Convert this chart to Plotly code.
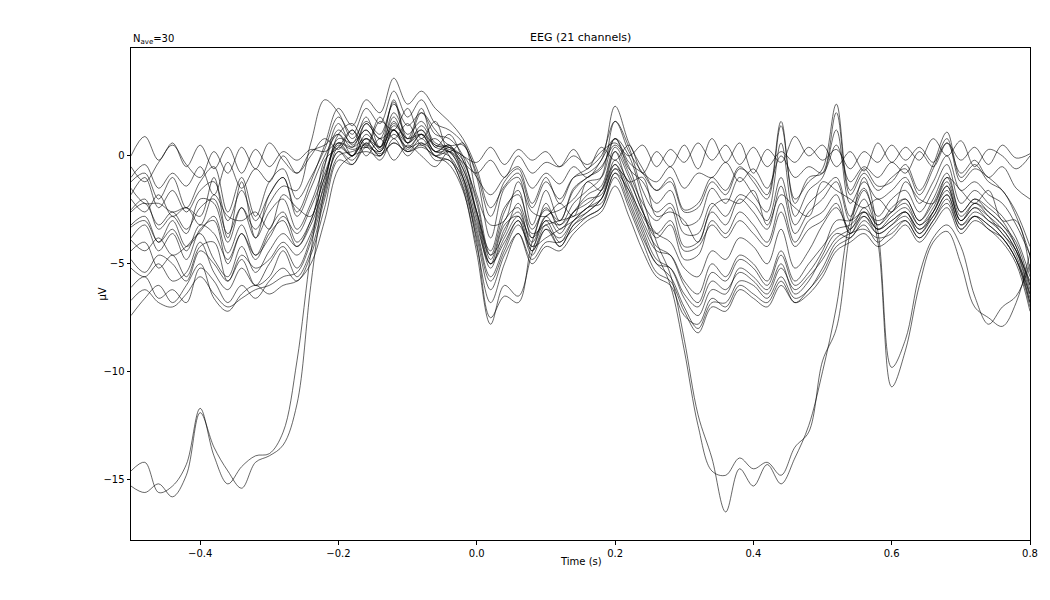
import numpy as np
import plotly.graph_objects as go

# sample times (s), one value every 20 ms
times = np.linspace(-0.5, 0.8, 66)

# channel traces in microvolts
eeg_01 = [-14.6, -14.2, -15.6, -15.3, -14.3, -11.7, -13.9, -15.2, -14.4, -13.9, -13.8,
          -12.8, -9.5, -4.5, -0.5, 1.5, 0.5, 1.2, 0.3, 1.5, 0.8, 1.0,
          0.2, 0.5, -1.0, -4.0, -7.5, -6.5, -6.8, -4.0, -2.5, -3.0, -1.5,
          -1.0, -0.5, 0.5, -0.5, -2.5, -4.5, -6.0, -9.0, -12.5, -14.6, -14.8,
          -14.0, -14.5, -14.2, -14.8, -13.5, -12.8, -9.5, -8.0, -3.5, -1.0, -3.5,
          -9.8, -8.5, -5.5, -3.8, -3.2, -4.2, -6.5, -7.8, -7.0, -6.5, -5.0]
eeg_02 = [-15.3, -15.6, -15.2, -15.8, -14.8, -11.9, -13.5, -14.6, -15.4, -14.2, -13.9,
          -13.4, -11.5, -6.0, -1.5, 1.0, 1.5, 0.5, 1.8, 0.8, 1.5, 0.5,
          0.8, 0.0, -1.5, -4.5, -7.8, -6.0, -6.5, -4.5, -2.8, -2.5, -2.0,
          -1.2, -1.0, 0.8, 0.0, -2.0, -4.0, -5.5, -8.5, -12.0, -14.0, -16.5,
          -14.5, -15.3, -14.3, -15.2, -14.0, -12.5, -10.0, -7.0, -3.0, -1.5, -4.0,
          -10.7, -9.0, -6.0, -4.0, -3.5, -5.0, -7.0, -7.5, -7.9, -6.8, -4.5]
eeg_03 = [0.0, 0.9, -0.2, 0.6, -0.5, 0.5, -0.6, 0.4, -0.8, 0.3, -0.5,
          0.2, -0.2, 0.3, 0.2, 0.6, 0.3, 0.5, 0.1, 0.6, 0.2, 0.5,
          0.0, 0.4, 0.0, -0.3, 0.4, -0.4, 0.3, -0.2, 0.2, -0.5, 0.0,
          -0.4, 0.2, 0.6, 0.0, 0.5, -0.5, 0.3, -0.3, 0.6, -0.2, 0.5,
          -0.4, 0.4, -0.5, 0.2, -0.3, 0.4, -0.2, 0.3, -0.6, 0.2, -0.3,
          0.5, -0.2, 0.4, -0.3, 0.6, -0.2, 0.4, -0.4, 0.5, -0.1, 0.1]
eeg_04 = [-0.5, -1.2, -0.3, 0.5, -0.4, -1.0, 0.2, -0.8, 0.4, -0.6, 0.6,
          -0.2, -0.8, 0.0, 0.8, 0.3, 1.2, 0.0, 0.8, -0.2, 0.5, 0.0,
          -0.5, 0.2, -0.3, -0.8, -0.2, -1.0, 0.0, -0.8, -0.3, -0.5, 0.3,
          -0.6, 0.4, -0.2, 0.5, -0.8, 0.2, -0.5, 0.5, -0.6, 0.8, -0.3,
          0.6, -0.8, 0.3, -0.3, 0.9, 0.0, 0.5, -0.5, 0.2, -0.7, 0.6,
          -0.3, 0.4, -0.2, 0.8, 0.0, 0.7, -0.5, 0.3, 0.0, -0.6, 0.0]
eeg_05 = [-1.0, -0.4, -1.5, -0.8, -1.4, -0.5, -1.8, -0.3, -1.5, -0.6, -1.2,
          0.0, -0.8, 0.2, 0.5, 1.0, 0.4, 1.5, 0.8, 1.2, 0.3, 1.0,
          0.5, 0.3, 0.0, -1.0, -1.8, -1.0, -0.5, -1.5, -0.8, -1.3, -0.5,
          -1.0, -0.2, 0.8, -0.3, -0.8, -1.2, -0.5, -1.5, -0.8, -1.0, -0.3,
          -1.2, -0.6, -1.5, 0.0, -1.0, -0.5, -0.8, 0.5, -1.2, -0.5, -1.0,
          -0.3, -0.8, 0.2, -0.5, 0.6, -0.8, -0.2, -1.0, -0.5, -1.5, -2.0]
eeg_06 = [-1.2, -0.8, -2.0, -1.0, -2.4, -1.2, -0.5, -2.6, -1.0, -2.8, -1.2,
          -0.6, -2.0, -1.0, 0.3, 1.8, 1.0, 2.2, 1.5, 3.0, 1.8, 2.6,
          1.5, 1.2, 0.6, -0.8, -2.8, -1.2, -0.6, -2.2, -1.0, -2.2, -1.0,
          -0.6, 0.0, 1.6, 0.2, -0.8, -1.6, -1.0, -2.5, -2.2, -1.0, -1.6,
          -0.5, -1.2, -2.0, 1.4, -2.2, -1.0, -0.8, 2.0, -1.8, -0.8, -1.6,
          -1.0, -0.6, -1.8, -0.6, 0.8, -1.2, -0.6, -1.0, -1.6, -2.6, -4.2]
eeg_07 = [-2.5, -2.0, -3.4, -2.8, -3.6, -2.0, -2.2, -4.0, -2.4, -3.8, -2.6,
          -2.0, -3.4, -2.2, -0.4, 1.2, 0.6, 1.8, 0.4, 2.6, 0.8, 2.2,
          0.4, 1.0, -0.2, -2.0, -4.6, -2.6, -1.6, -3.8, -2.2, -3.4, -2.6,
          -1.8, -1.4, 0.4, -0.8, -2.2, -3.0, -2.4, -4.2, -4.0, -2.6, -3.2,
          -2.0, -2.6, -3.4, -1.4, -3.6, -2.6, -2.0, -1.2, -3.0, -2.0, -3.2,
          -2.4, -2.0, -3.0, -2.0, -0.8, -2.6, -2.0, -2.4, -3.0, -4.2, -6.0]
eeg_08 = [-3.2, -2.8, -4.0, -3.0, -4.2, -3.5, -2.8, -4.5, -3.2, -4.6, -3.4,
          -2.6, -4.0, -3.0, -1.0, 0.5, 0.0, 0.8, 0.2, 1.6, 0.6, 1.4,
          0.5, 0.4, -0.2, -2.2, -4.8, -3.0, -2.4, -4.2, -3.0, -4.0, -3.0,
          -2.4, -2.0, -0.6, -1.2, -2.6, -3.8, -3.2, -4.8, -4.6, -3.0, -3.6,
          -2.6, -3.2, -4.0, -2.2, -4.0, -3.0, -2.6, -1.8, -3.6, -2.6, -3.4,
          -3.0, -2.6, -3.6, -2.6, -1.4, -3.0, -2.4, -3.0, -3.4, -4.4, -5.8]
eeg_09 = [-1.5, -2.2, -2.2, -2.6, -2.4, -2.8, -1.0, -3.8, -1.2, -3.8, -1.8,
          -1.0, -2.8, -1.5, 0.0, 1.0, 0.0, 1.5, 0.8, 2.5, 0.6, 2.0,
          1.2, 0.5, 0.5, -1.0, -3.8, -1.5, -1.0, -3.2, -1.6, -3.0, -1.6,
          -1.0, -0.6, 0.8, -0.6, -1.2, -2.2, -1.6, -3.2, -3.0, -1.5, -2.2,
          -1.0, -1.8, -2.6, 0.6, -2.8, -1.6, -1.0, 1.2, -2.2, -1.2, -2.0,
          -1.6, -1.0, -2.2, -1.2, 0.0, -1.6, -1.2, -1.8, -2.2, -3.2, -4.6]
eeg_10 = [-2.0, -2.6, -1.8, -2.8, -2.4, -3.2, -1.8, -2.8, -3.0, -2.6, -3.4,
          -1.8, -2.4, -2.8, -0.2, 0.4, 1.2, 0.4, 1.6, 1.2, 2.2, 0.8,
          1.6, 0.2, 0.6, -1.8, -3.2, -3.0, -1.2, -2.6, -2.8, -2.2, -2.8,
          -1.2, -1.6, 0.2, -1.2, -1.0, -2.8, -2.6, -3.0, -4.0, -2.4, -2.0,
          -2.2, -1.6, -3.2, -1.8, -2.4, -2.8, -1.2, -1.6, -2.0, -2.4, -2.0,
          -2.6, -1.2, -2.0, -2.2, -1.0, -1.6, -2.2, -1.6, -3.0, -3.0, -5.4]
eeg_11 = [-3.8, -3.2, -4.4, -3.6, -4.8, -3.4, -3.0, -5.0, -3.6, -4.8, -3.6,
          -3.0, -4.2, -3.2, -1.4, 0.2, -0.4, 0.6, 0.0, 1.2, 0.4, 1.0,
          0.0, 0.2, -0.6, -2.6, -5.0, -3.2, -2.8, -4.4, -3.2, -4.2, -3.2,
          -2.8, -2.4, -0.8, -1.6, -2.8, -3.6, -3.0, -4.4, -4.2, -3.2, -3.8,
          -3.0, -3.6, -4.2, -2.6, -4.2, -3.4, -3.0, -2.2, -3.6, -2.8, -3.4,
          -3.0, -2.6, -3.4, -2.8, -1.8, -3.2, -2.8, -3.4, -3.8, -4.8, -6.4]
eeg_12 = [-1.8, -1.0, -2.4, -1.6, -2.6, -1.6, -1.2, -3.0, -1.6, -3.0, -1.8,
          -1.0, -2.6, -1.2, 0.5, 2.2, 1.4, 2.6, 2.0, 3.6, 2.4, 3.0,
          2.2, 1.6, 0.8, -0.6, -2.4, -1.4, -0.8, -2.4, -1.2, -2.0, -1.0,
          -0.8, -0.2, 2.3, 0.6, -0.6, -1.6, -1.2, -2.6, -2.4, -1.2, -1.8,
          -0.6, -1.0, -1.8, 1.6, -2.0, -1.2, -0.6, 2.4, -1.6, -0.6, -1.4,
          -1.2, -0.4, -1.6, -0.4, 1.1, -1.0, -0.4, -1.2, -1.6, -2.8, -4.6]
eeg_13 = [-2.6, -2.2, -3.2, -2.6, -3.4, -2.4, -2.0, -3.6, -2.4, -3.4, -2.2,
          -1.4, -1.6, 0.6, 2.6, 2.0, 0.8, 1.6, 1.0, 2.4, 1.4, 2.0,
          1.0, 0.8, 0.0, -2.6, -4.4, -2.4, -1.8, -3.4, -2.4, -3.2, -2.2,
          -1.6, -1.0, 1.6, 0.4, -1.6, -2.6, -2.2, -3.6, -3.6, -2.2, -2.8,
          -1.8, -2.2, -3.0, -1.0, -3.2, -2.2, -1.6, -1.0, -2.8, -1.6, -2.8,
          -2.0, -1.6, -2.6, -1.6, -0.4, -2.2, -1.6, -2.2, -2.8, -3.8, -5.6]
eeg_14 = [-3.3, -3.0, -4.0, -3.4, -4.4, -3.2, -3.6, -4.8, -3.6, -4.6, -3.8,
          -2.8, -3.6, -2.4, -0.8, 0.6, 0.0, 1.0, 0.4, 1.8, 0.6, 1.2,
          0.4, 0.2, -0.8, -3.0, -5.2, -3.4, -2.6, -4.0, -2.8, -3.6, -2.6,
          -2.2, -1.6, 0.2, -1.0, -2.6, -3.6, -4.0, -5.2, -5.6, -4.4, -4.8,
          -3.8, -4.2, -5.0, -3.4, -5.2, -4.4, -3.2, -2.4, -3.4, -2.4, -3.2,
          -2.6, -2.0, -3.0, -2.2, -1.0, -2.6, -2.0, -2.6, -3.2, -4.2, -6.2]
eeg_15 = [-3.9, -4.4, -3.8, -4.6, -4.2, -3.6, -4.8, -5.6, -4.2, -5.4, -4.4,
          -3.6, -4.2, -3.0, -1.0, 0.6, 0.4, 0.8, 0.2, 1.4, 0.8, 1.2,
          0.2, 0.5, -0.6, -2.6, -4.6, -3.6, -2.2, -3.6, -3.2, -3.0, -2.8,
          -2.4, -1.6, -0.4, -1.6, -3.2, -4.4, -4.6, -5.8, -6.4, -5.0, -5.6,
          -4.6, -5.0, -5.8, -4.4, -5.8, -5.0, -4.2, -3.4, -3.2, -2.6, -3.4,
          -2.8, -2.4, -3.2, -2.6, -1.4, -3.0, -2.4, -2.8, -3.4, -4.4, -6.6]
eeg_16 = [-4.4, -4.0, -5.2, -4.6, -5.6, -4.2, -4.0, -5.8, -4.8, -6.0, -5.0,
          -4.2, -5.2, -3.8, -1.6, 0.2, -0.2, 0.6, 0.0, 1.2, 0.2, 0.8,
          0.0, -0.2, -1.0, -3.4, -5.6, -4.2, -3.0, -4.6, -3.4, -4.2, -3.2,
          -2.6, -2.0, -0.6, -1.8, -3.4, -4.8, -5.2, -6.6, -7.4, -6.2, -6.4,
          -5.2, -5.6, -6.2, -5.0, -6.4, -5.8, -4.6, -3.6, -3.8, -3.0, -3.6,
          -3.2, -2.8, -3.6, -2.8, -1.8, -3.2, -2.6, -3.0, -3.6, -4.6, -6.8]
eeg_17 = [-5.2, -5.6, -5.0, -5.8, -5.4, -4.0, -5.4, -6.2, -5.2, -6.0, -5.6,
          -4.4, -5.6, -4.4, -2.0, 0.0, 0.2, 0.4, 0.2, 1.0, 0.4, 0.6,
          0.2, 0.0, -1.2, -3.6, -5.8, -4.4, -3.2, -4.2, -3.8, -3.4, -3.0,
          -2.4, -2.2, -0.8, -2.2, -3.8, -5.0, -5.6, -7.0, -8.0, -6.8, -6.8,
          -5.8, -6.0, -6.6, -5.6, -6.6, -6.2, -5.2, -4.0, -3.6, -3.4, -3.8,
          -3.6, -3.0, -3.8, -3.0, -2.2, -3.4, -2.8, -3.2, -3.8, -4.8, -7.0]
eeg_18 = [-6.1, -5.6, -6.6, -6.2, -6.8, -5.2, -5.8, -6.8, -6.0, -6.6, -5.8,
          -5.2, -5.8, -4.6, -2.4, -0.2, -0.4, 0.4, -0.2, 0.8, 0.0, 0.6,
          -0.2, -0.2, -1.4, -3.8, -6.2, -4.6, -3.6, -4.8, -4.0, -4.0, -3.4,
          -2.8, -2.4, -1.0, -2.4, -4.0, -5.4, -5.8, -7.2, -8.2, -7.0, -7.2,
          -6.2, -6.6, -7.0, -6.0, -6.8, -6.4, -5.6, -4.4, -4.0, -3.6, -4.2,
          -3.8, -3.2, -4.0, -3.2, -2.4, -3.6, -3.0, -3.4, -4.0, -5.0, -7.2]
eeg_19 = [-6.7, -6.2, -6.8, -7.0, -6.4, -5.6, -6.4, -7.0, -6.6, -6.2, -6.0,
          -5.6, -5.4, -4.0, -1.8, 0.4, 0.0, 0.8, 0.4, 1.2, 0.6, 1.0,
          0.2, 0.2, -1.0, -3.2, -5.0, -4.0, -3.0, -4.4, -3.4, -3.8, -3.0,
          -2.6, -2.0, -0.4, -2.0, -3.6, -5.0, -5.2, -6.4, -7.0, -5.8, -6.2,
          -5.4, -5.8, -6.4, -5.2, -6.2, -5.6, -4.8, -3.8, -3.4, -2.8, -3.6,
          -3.2, -2.6, -3.4, -2.6, -1.6, -3.0, -2.2, -2.8, -3.6, -4.4, -6.4]
eeg_20 = [-7.4, -6.6, -6.0, -6.8, -6.0, -5.0, -6.6, -7.2, -6.4, -6.0, -6.4,
          -6.0, -5.8, -5.0, -3.0, -0.6, 0.0, 0.2, 0.0, 0.6, 0.2, 0.4,
          0.0, -0.4, -1.6, -4.2, -6.8, -5.0, -3.6, -5.0, -4.2, -4.4, -3.6,
          -3.0, -2.6, -1.4, -2.8, -4.4, -5.6, -6.0, -7.4, -7.8, -6.6, -7.0,
          -6.0, -6.4, -6.8, -5.8, -6.8, -6.2, -5.4, -4.2, -3.8, -3.2, -4.0,
          -3.4, -3.0, -3.8, -3.0, -2.0, -3.4, -2.8, -3.2, -3.8, -4.8, -6.8]
eeg_21 = [-4.8, -5.4, -4.6, -5.0, -5.8, -4.4, -5.0, -5.8, -4.6, -5.2, -4.8,
          -4.0, -4.6, -3.6, -1.2, 0.8, 0.6, 1.2, 0.4, 2.0, 1.0, 1.6,
          0.6, 0.4, -0.4, -2.8, -5.0, -3.8, -2.8, -3.8, -3.0, -3.2, -2.6,
          -2.0, -1.8, -0.2, -1.4, -3.0, -4.2, -4.6, -6.0, -6.8, -5.4, -5.8,
          -4.8, -5.2, -6.0, -4.6, -6.0, -5.4, -4.4, -3.0, -3.0, -2.6, -3.0,
          -2.6, -2.2, -3.2, -2.4, -1.2, -2.8, -2.2, -2.6, -3.2, -4.0, -6.0]

channels = [eeg_01, eeg_02, eeg_03, eeg_04, eeg_05, eeg_06, eeg_07, eeg_08,
            eeg_09, eeg_10, eeg_11, eeg_12, eeg_13, eeg_14, eeg_15, eeg_16,
            eeg_17, eeg_18, eeg_19, eeg_20, eeg_21]
assert all(len(c) == len(times) for c in channels), [len(c) for c in channels]

fig = go.Figure()
for i, ch in enumerate(channels):
    fig.add_trace(go.Scatter(
        x=times, y=ch, mode="lines",
        line=dict(color="black", width=0.6, shape="spline", smoothing=1.0),
        name=f"EEG {i + 1:03d}", hoverinfo="x+y+name",
    ))

font = dict(family="DejaVu Sans", size=10, color="black")

# the page has an 8 px body margin, so the margins are set 8 px short
fig.update_layout(
    width=1050, height=600,
    margin=dict(l=123, r=28, t=40, b=68),
    plot_bgcolor="white", paper_bgcolor="white",
    showlegend=False,
    font=font,
)

fig.update_xaxes(
    range=[-0.5, 0.8], tickvals=[-0.4, -0.2, 0.0, 0.2, 0.4, 0.6, 0.8],
    ticktext=["\u22120.4", "\u22120.2", "0.0", "0.2", "0.4", "0.6", "0.8"],
    showline=True, linecolor="black", linewidth=1, mirror=True,
    ticks="outside", ticklen=3.5, tickcolor="black", showgrid=False, zeroline=False,
)
fig.update_yaxes(
    range=[-17.8, 5.0], tickvals=[0, -5, -10, -15],
    showline=True, linecolor="black", linewidth=1, mirror=True,
    ticks="outside", ticklen=3.5, tickcolor="black", showgrid=False, zeroline=False,
)

fig.add_annotation(text="Time (s)", xref="paper", yref="paper",
                   x=0.5, y=0, yanchor="top", yshift=-14, showarrow=False, font=font)
fig.add_annotation(text="µV", xref="paper", yref="paper", textangle=-90,
                   x=0, y=0.5, xanchor="right", xshift=-22, showarrow=False, font=font)
fig.add_annotation(text="EEG (21 channels)", xref="paper", yref="paper",
                   x=0.5, y=1, yanchor="bottom", yshift=2, showarrow=False,
                   font=dict(family="DejaVu Sans", size=11, color="black"))
fig.add_annotation(text="N<sub>ave</sub>=30", xref="paper", yref="paper",
                   x=0, y=1, xanchor="left", yanchor="bottom", yshift=0,
                   showarrow=False, font=font)

fig.write_html("out.html")
